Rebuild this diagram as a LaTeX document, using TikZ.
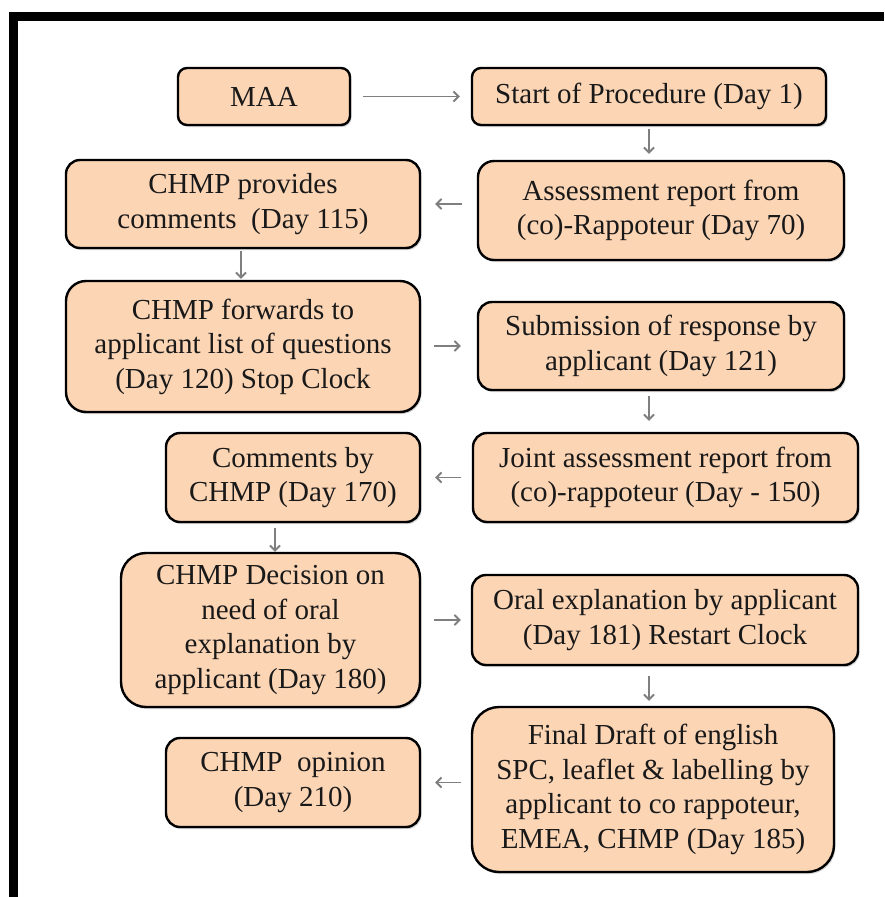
\documentclass[tikz,border=0pt]{standalone}
\usepackage{fontspec}
\setmainfont{Liberation Serif}
\usetikzlibrary{arrows.meta,shadows,calc}
\definecolor{peach}{HTML}{FCD5B5}
\definecolor{arrgrey}{HTML}{7F7F7F}
\begin{document}
\begin{tikzpicture}[x=1pt,y=-1pt,
  box/.style={draw=black, line width=2.4pt, fill=peach, rounded corners=#1,
    align=center, inner sep=0pt, text=black!90,
    font=\fontsize{29}{34.5}\selectfont,
    drop shadow={shadow xshift=1.5pt, shadow yshift=-2pt, opacity=0.35}},
  arr/.style={draw=arrgrey, line width=1.9pt, -{Straight Barb[length=5pt,width=10pt]}}]
\useasboundingbox (0,0) rectangle (884,897);
\fill[white] (0,0) rectangle (884,897);
% frame
\fill[black] (9,12) rectangle (884,20.5);
\fill[black] (9,12) rectangle (17.5,897);
% nodes
\node[box=9pt, minimum width=172pt, minimum height=57pt] (maa) at (264,96.5) {MAA};
\node[box=9pt, minimum width=354pt, minimum height=57pt] (start) at (649,96.5) {Start of Procedure (Day 1)};
\node[box=14pt, minimum width=354pt, minimum height=88pt] (prov) at (243,204) {CHMP provides\\comments~~(Day 115)};
\node[box=16pt, minimum width=366pt, minimum height=99pt] (assess) at (661,210.5) {Assessment report from\\(co)-Rappoteur (Day 70)};
\node[box=20pt, minimum width=354pt, minimum height=131pt] (fwd) at (243,346.5) {CHMP forwards to\\applicant list of questions\\(Day 120) Stop Clock};
\node[box=14pt, minimum width=366pt, minimum height=88pt] (sub) at (661,346) {Submission of response by\\applicant (Day 121)};
\node[box=14pt, minimum width=254pt, minimum height=89pt] (comm) at (293,477.5) {Comments by\\CHMP (Day 170)};
\node[box=14pt, minimum width=385pt, minimum height=89pt] (joint) at (665.5,477.5) {Joint assessment report from\\(co)-rappoteur (Day - 150)};
\node[box=25pt, minimum width=299pt, minimum height=154pt] (dec) at (270.5,630) {CHMP Decision on\\need of oral\\explanation by\\applicant (Day 180)};
\node[box=14pt, minimum width=386pt, minimum height=90pt] (oral) at (665,620) {Oral explanation by applicant\\(Day 181) Restart Clock};
\node[box=27pt, minimum width=362pt, minimum height=165pt] (final) at (653,789.5) {Final Draft of english\\SPC, leaflet \& labelling by\\applicant to co rappoteur,\\EMEA, CHMP (Day 185)};
\node[box=14pt, minimum width=254pt, minimum height=89pt] (op) at (293,782.5) {CHMP~~opinion\\(Day 210)};
% connectors
\draw[arr, shorten <=12pt, shorten >=11pt] (maa.east) -- (maa.east -| start.west);
\draw[arr, shorten <=3pt, shorten >=6pt] (start.south) -- (start.south |- assess.north);
\draw[arr, shorten <=15pt, shorten >=14pt] (assess.west |- prov.east) -- (prov.east);
\draw[arr, shorten <=2pt, shorten >=1pt] ([xshift=-2pt]prov.south) -- ([xshift=-2pt]prov.south |- fwd.north);
\draw[arr, shorten <=13pt, shorten >=16pt] (fwd.east |- sub.west) -- (sub.west);
\draw[arr, shorten <=5pt, shorten >=11pt] ([xshift=-12pt]sub.south) -- ([xshift=-12pt]sub.south |- joint.north);
\draw[arr, shorten <=11pt, shorten >=14pt] (joint.west) -- (joint.west -| comm.east);
\draw[arr, shorten <=5pt, shorten >=0pt] ([xshift=-18pt]comm.south) -- ([xshift=-18pt]comm.south |- dec.north);
\draw[arr, shorten <=13pt, shorten >=10pt] (dec.east |- oral.west) -- (oral.west);
\draw[arr, shorten <=10pt, shorten >=5pt] ([xshift=-16pt]oral.south) -- ([xshift=-16pt]oral.south |- final.north);
\draw[arr, shorten <=10pt, shorten >=14pt] (final.west |- op.east) -- (op.east);
\end{tikzpicture}
\end{document}
